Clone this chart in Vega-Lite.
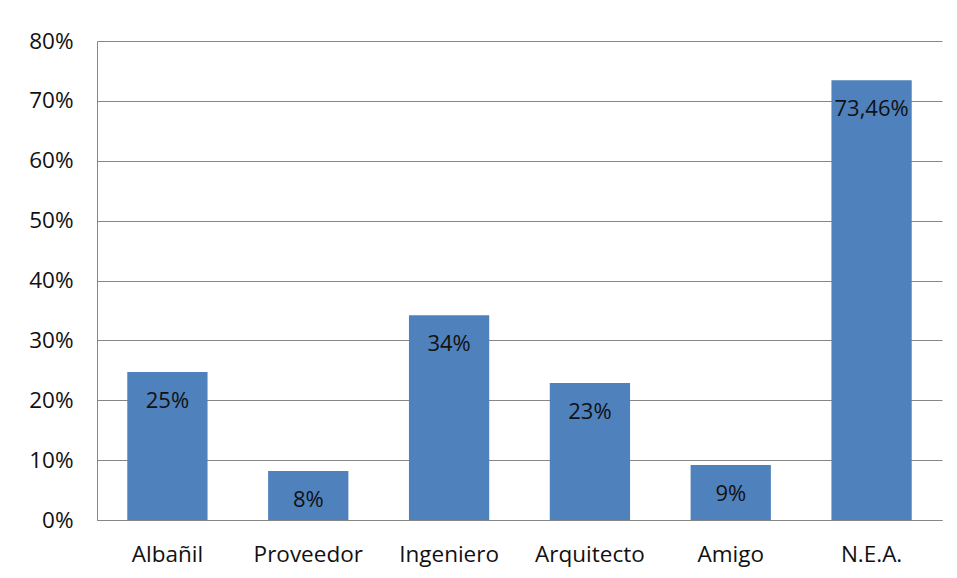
{
  "$schema": "https://vega.github.io/schema/vega-lite/v6.json",
  "width": 845,
  "height": 479,
  "autosize": {"type": "none"},
  "padding": {"left": 97, "top": 41, "right": 15, "bottom": 58},
  "background": "white",
  "config": {
    "view": {"stroke": null},
    "font": "Open Sans"
  },
  "data": {
    "values": [
      {"cat": "Albañil", "value": 24.7, "label": "25%"},
      {"cat": "Proveedor", "value": 8.2, "label": "8%"},
      {"cat": "Ingeniero", "value": 34.2, "label": "34%"},
      {"cat": "Arquitecto", "value": 22.9, "label": "23%"},
      {"cat": "Amigo", "value": 9.2, "label": "9%"},
      {"cat": "N.E.A.", "value": 73.46, "label": "73,46%"}
    ]
  },
  "encoding": {
    "x": {
      "field": "cat", "type": "nominal", "sort": null,
      "scale": {"paddingInner": 0.43, "paddingOuter": 0.215},
      "axis": {"title": null, "labelAngle": 0, "labelFontSize": 22.5, "labelColor": "#111111", "labelPadding": 23, "ticks": false, "domainColor": "#868686", "labelFont": "Open Sans"}
    },
    "y": {
      "field": "value", "type": "quantitative",
      "scale": {"domain": [0, 80]},
      "axis": {"title": null, "values": [0,10,20,30,40,50,60,70,80], "labelExpr": "datum.value + '%'", "labelFontSize": 22.5, "labelColor": "#111111", "labelPadding": 24, "ticks": false, "grid": true, "gridColor": "#868686", "domainColor": "#868686", "labelFont": "Open Sans"}
    }
  },
  "layer": [
    {"mark": {"type": "bar", "color": "#4F81BD"}},
    {"mark": {"type": "text", "baseline": "middle", "dy": 29, "fontSize": 22, "color": "#111111", "font": "Open Sans"},
     "encoding": {"text": {"field": "label"}}}
  ]
}
